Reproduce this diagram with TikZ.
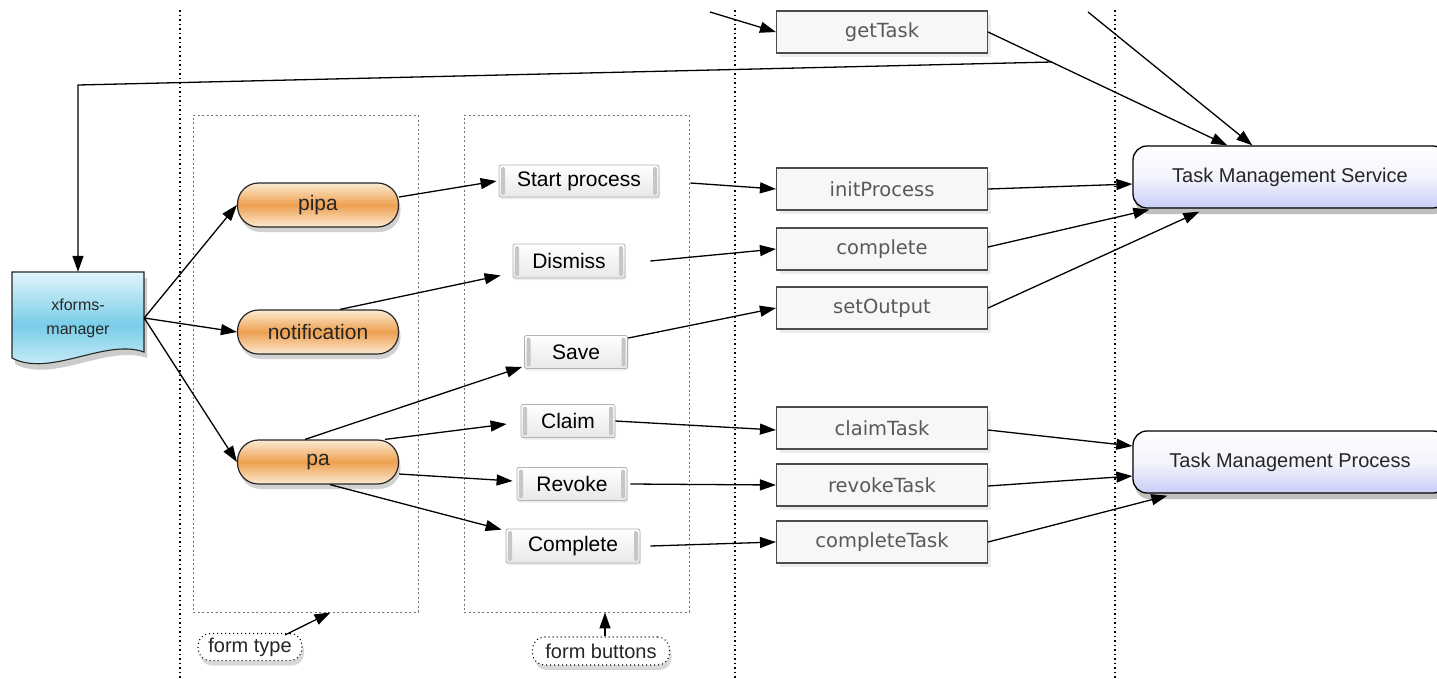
\documentclass[tikz,border=0pt]{standalone}
\usepackage{fontspec}
\setmainfont{Liberation Sans}
\newfontfamily\dejavu{DejaVu Sans}
\usetikzlibrary{arrows.meta,shadows,calc}
\definecolor{orM}{RGB}{238,160,80}
\definecolor{orL}{RGB}{252,234,210}
\definecolor{cyM}{RGB}{120,205,232}
\definecolor{cyL}{RGB}{225,245,252}
\definecolor{lav}{RGB}{200,205,245}
\begin{document}
\begin{tikzpicture}[x=1pt,y=-1pt,
  arr/.style={-{Triangle[length=16pt,width=11pt]}, line width=1.3pt},
  sep/.style={line width=1.4pt, dash pattern=on 1.5pt off 3pt},
  grp/.style={draw=black!55, dash pattern=on 2pt off 2.5pt, line width=0.9pt, minimum width=225pt, minimum height=497pt},
  pill/.style={rounded corners=21pt, draw=black!85, line width=1.2pt, minimum width=161pt, minimum height=44pt,
    top color=orL, bottom color=orL, middle color=orM, font=\fontsize{21}{25}\selectfont, text=black!85,
    drop shadow={opacity=0.35,shadow xshift=2pt,shadow yshift=-5pt}},
  btn/.style={draw=gray!60, line width=0.8pt, rounded corners=2pt, top color=white, bottom color=gray!18,
    font=\fontsize{21}{25}\selectfont, inner sep=0pt,
    drop shadow={opacity=0.15,shadow xshift=1pt,shadow yshift=-2pt},
    path picture={
      \fill[gray!45] ([xshift=2pt,yshift=2pt]path picture bounding box.south west) rectangle ([xshift=6pt,yshift=-2pt]path picture bounding box.north west);
      \fill[gray!45] ([xshift=-2pt,yshift=2pt]path picture bounding box.south east) rectangle ([xshift=-6pt,yshift=-2pt]path picture bounding box.north east);}},
  meth/.style={draw=black!70, line width=1.1pt, fill=gray!6, minimum width=211pt, minimum height=42pt,
    font=\dejavu\fontsize{19.5}{22}\selectfont, text=gray!70!black,
    drop shadow={opacity=0.15,shadow xshift=3pt,shadow yshift=-4pt}},
  svc/.style={draw=black, line width=1.3pt, rounded corners=14pt, top color=white, bottom color=lav, middle color=white!80!lav,
    minimum width=314pt, minimum height=62pt, font=\fontsize{20}{24}\selectfont, text=black!85,
    drop shadow={opacity=0.5,shadow xshift=2pt,shadow yshift=-6pt}},
  lbl/.style={draw, line width=1.1pt, dash pattern=on 1pt off 3pt, rounded corners=12pt, fill=white,
    font=\fontsize{20}{24}\selectfont, inner sep=0pt, text=black!85,
    drop shadow={opacity=0.3,shadow xshift=2pt,shadow yshift=-5pt}}
]
\useasboundingbox (0,0) rectangle (1437,678);
\clip (0,0) rectangle (1437,678);
\fill[white] (0,0) rectangle (1437,678);

% separators
\draw[sep] (180,10) -- (180,678);
\draw[sep] (735,10) -- (735,678);
\draw[sep] (1115,10) -- (1115,678);

% group boxes
\node[grp] (ftbox) at (305.5,363.5) {};
\node[grp] (fbbox) at (576.5,363.5) {};

% xforms-manager document shape
\path[draw=black!85, line width=1.1pt, top color=cyL, bottom color=cyL, middle color=cyM,
  drop shadow={opacity=0.4,shadow xshift=3pt,shadow yshift=-6pt}]
  (12,272) -- (144,272) -- (144,352) .. controls (105,338) and (50,378) .. (12,358) -- cycle;
\node[minimum width=132pt, minimum height=92pt, align=center, font=\fontsize{16}{24}\selectfont, text=black!85]
  (xf) at (78,318) {xforms-\\manager};

% pills
\node[pill] (pipa) at (318,205) {pipa};
\node[pill] (notif) at (318,332) {notification};
\node[pill] (pa) at (318,462) {pa};

% buttons
\node[btn, minimum width=160pt, minimum height=32pt] (start) at (579,181) {Start process};
\node[btn, minimum width=112pt, minimum height=34pt] (dismiss) at (569,261) {Dismiss};
\node[btn, minimum width=103pt, minimum height=33pt] (save) at (576,352) {Save};
\node[btn, minimum width=94pt, minimum height=33pt] (claim) at (568,421) {Claim};
\node[btn, minimum width=110pt, minimum height=33pt] (revoke) at (572,484) {Revoke};
\node[btn, minimum width=134pt, minimum height=34pt] (complet) at (573,546) {Complete};

% methods
\node[meth] (get) at (882,32) {getTask};
\node[meth] (init) at (882,189) {initProcess};
\node[meth] (compl) at (882,249) {complete};
\node[meth] (setout) at (882,308) {setOutput};
\node[meth] (claimT) at (882,428) {claimTask};
\node[meth] (revokeT) at (882,485) {revokeTask};
\node[meth] (complT) at (882,542) {completeTask};

% services
\node[svc] (tms) at (1290,177) {Task Management Service};
\node[svc] (tmp) at (1290,462) {Task Management Process};

% labels
\node[lbl, minimum width=104pt, minimum height=27pt] (ft) at (250,647) {form type};
\node[lbl, minimum width=137pt, minimum height=28pt] (fb) at (601,651) {form buttons};

% coordinates
\coordinate (t1) at (710,12);
\coordinate (t2) at (1088,12);
\coordinate (j) at (1052,62);
\coordinate (bend) at (78,85);

% connectors
\draw[arr] (t1) -- (get.west);
\draw[arr] (get.east) -- ($(tms.north west)+(95,0)$);
\draw[arr] (t2) -- ($(tms.north west)+(120,0)$);
\draw[arr] (j) -- (bend) -- (xf.north);

\draw[arr] (xf.east) -- (pipa.west);
\draw[arr] (xf.east) -- (notif.west);
\draw[arr] (xf.east) -- (pa.west);

\draw[arr] ([yshift=8pt]pipa.east) -- ([xshift=-2pt]start.west);
\draw[arr] ([xshift=22pt]notif.north) -- ([xshift=-12pt,yshift=3pt]dismiss.south west);
\draw[arr] ([xshift=-13pt]pa.north) -- ([xshift=-2pt,yshift=2pt]save.south west);
\draw[arr] ([xshift=67pt]pa.north) -- ([xshift=-14pt,yshift=-3pt]claim.west);
\draw[arr] ([yshift=-12pt]pa.east) -- ([xshift=-4pt,yshift=3pt]revoke.west);
\draw[arr] ([xshift=12pt]pa.south) -- ([xshift=-4pt,yshift=-1pt]complet.north west);

\draw[arr] ([xshift=31pt,yshift=-2pt]start.east) -- (init.west);
\draw[arr] ([xshift=25pt]dismiss.east) -- (compl.west);
\draw[arr] ([yshift=-3pt]save.north east) -- (setout.west);
\draw[arr] (claim.east) -- ([yshift=-2pt]claimT.west);
\draw[arr] ([xshift=3pt]revoke.east) -- (revokeT.west);
\draw[arr] ([xshift=10pt]complet.east) -- (complT.west);

\draw[arr] (init.east) -- ([yshift=-7pt]tms.west);
\draw[arr] ([yshift=2pt]compl.east) -- ([xshift=17pt,yshift=-1pt]tms.south west);
\draw[arr] (setout.east) -- ([xshift=67pt,yshift=-3pt]tms.south west);
\draw[arr] ([yshift=-2pt]claimT.east) -- ([yshift=16pt]tmp.west);
\draw[arr] ([yshift=-1pt]revokeT.east) -- ([yshift=-14pt]tmp.west);
\draw[arr] (complT.east) -- ([xshift=35pt,yshift=-2pt]tmp.south west);

\draw[arr] ([xshift=35pt,yshift=-2pt]ft.north) -- ($(ftbox.south)+(25,0)$);
\draw[arr] ([xshift=4pt]fb.north) -- ($(fbbox.south)+(28.5,0)$);
\end{tikzpicture}
\end{document}
